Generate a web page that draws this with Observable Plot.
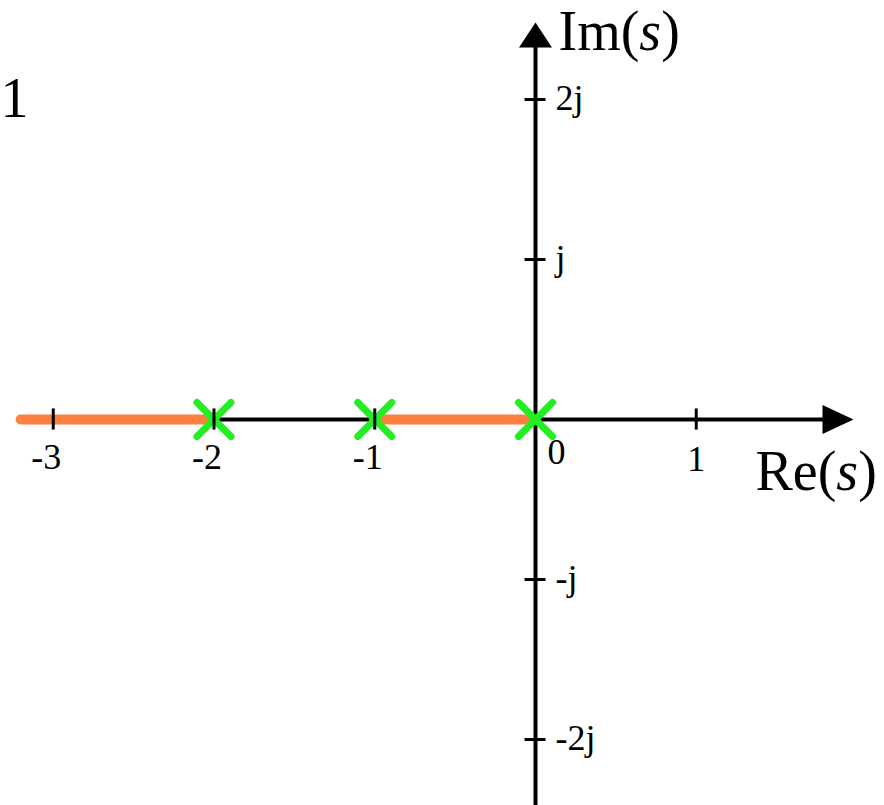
<!DOCTYPE html>
<html>
<head>
<meta charset="utf-8">
<script src="https://cdn.jsdelivr.net/npm/d3@7"></script>
<script src="https://cdn.jsdelivr.net/npm/@observablehq/plot@0.6"></script>
<style>
  html, body { margin: 0; padding: 0; background: #ffffff; }
  #chart svg { display: block; }
</style>
</head>
<body>
<div id="chart"></div>
<script>
// ---- data ----
const poles = [0, -1, -2];                       // open-loop poles (×)
const locusSegments = [[-3.2, -2], [-1, 0]];     // real-axis root-locus segments
const xTicks = [-3, -2, -1, 1];
const xTickLabels = ["-3", "-2", "-1", "1"];
const originLabel = "0";
const yTicks = [2, 1, -1, -2];
const yTickLabels = ["2j", "j", "-j", "-2j"];
const xAxisExtent = [-3.2, 1.9];
const yAxisExtent = [-2.5, 2.35];
const xAxisTitle = "Re(s)";
const yAxisTitle = "Im(s)";
const cornerText = "1";

// ---- custom symbols ----
function arrowSymbol(len, wid) {
  return {
    draw(ctx) {
      ctx.moveTo(0, -len / 2);
      ctx.lineTo(wid / 2, len / 2);
      ctx.lineTo(-wid / 2, len / 2);
      ctx.closePath();
    }
  };
}
const crossSymbol = {
  draw(ctx) {
    const h = 17;
    ctx.moveTo(-h, -h); ctx.lineTo(h, h);
    ctx.moveTo(-h, h); ctx.lineTo(h, -h);
  }
};

const serif = "'Liberation Serif', 'Times New Roman', serif";
const negIdx = xTicks.map((v, i) => i).filter(i => xTicks[i] < 0);
const posIdx = xTicks.map((v, i) => i).filter(i => xTicks[i] > 0);

const chart = Plot.plot({
  width: 884,
  height: 805,
  margin: 0,
  x: {domain: [-3.3281, 2.1711], axis: null},
  y: {domain: [-2.4125, 2.61875], axis: null},
  style: {background: "#ffffff", overflow: "visible"},
  marks: [
    // horizontal axis line
    Plot.ruleY([0], {x1: xAxisExtent[0], x2: xAxisExtent[1], stroke: "#000", strokeWidth: 4}),
    // root locus on real axis
    Plot.ruleY(locusSegments, {x1: d => d[0], x2: d => d[1], y: d => 0, stroke: "#FF7F3F", strokeWidth: 10, strokeLinecap: "round"}),
    // vertical axis line
    Plot.ruleX([0], {y1: yAxisExtent[0], y2: yAxisExtent[1], stroke: "#000", strokeWidth: 4}),
    // arrowheads
    Plot.dot([0], {x: d => 1.882, y: d => 0, symbol: arrowSymbol(31, 29), rotate: 90, fill: "#000", stroke: "none"}),
    Plot.dot([0], {x: d => 0, y: d => 2.403, symbol: arrowSymbol(25, 33), fill: "#000", stroke: "none"}),
    // poles
    Plot.dot(poles, {x: d => d, y: d => 0, symbol: crossSymbol, fill: "none", stroke: "#22EE22", strokeWidth: 7, strokeLinecap: "round"}),
    // tick marks
    Plot.ruleX(xTicks, {y1: -0.066, y2: 0.066, stroke: "#000", strokeWidth: 3}),
    Plot.ruleY(yTicks, {x1: -0.065, x2: 0.065, stroke: "#000", strokeWidth: 3}),
    // x tick labels
    Plot.text(negIdx, {x: i => xTicks[i], y: d => 0, text: i => xTickLabels[i], dy: 38, dx: -7, fontFamily: serif, fontSize: 36, fill: "#000", textAnchor: "middle", lineAnchor: "middle"}),
    Plot.text(posIdx, {x: i => xTicks[i], y: d => 0, text: i => xTickLabels[i], dy: 40, dx: 0, fontFamily: serif, fontSize: 36, fill: "#000", textAnchor: "middle", lineAnchor: "middle"}),
    Plot.text([originLabel], {x: d => 0, y: d => 0, text: d => d, dy: 33, dx: 21, fontFamily: serif, fontSize: 36, fill: "#000", textAnchor: "middle", lineAnchor: "middle"}),
    // y tick labels
    Plot.text(yTicks, {x: d => 0, y: d => d, text: (d, i) => yTickLabels[i], dx: 20, dy: -1, fontFamily: serif, fontSize: 36, fill: "#000", textAnchor: "start", lineAnchor: "middle"}),
    // axis titles
    Plot.text([xAxisTitle], {x: d => 1.3686, y: d => -0.331, text: d => d, fontFamily: serif, fontSize: 56, fill: "#000", textAnchor: "start", lineAnchor: "middle"}),
    Plot.text([yAxisTitle], {x: d => 0.143, y: d => 2.42, text: d => d, fontFamily: serif, fontSize: 56, fill: "#000", textAnchor: "start", lineAnchor: "middle"}),
    // partial text at top-left
    Plot.text([cornerText], {x: d => -3.3281, y: d => 2.0, text: d => d, fontFamily: serif, fontSize: 56, fill: "#000", textAnchor: "start", lineAnchor: "middle"})
  ]
});

// italicize the variable s in the axis titles
chart.querySelectorAll("text").forEach(t => {
  const m = /^(Im|Re)\(s\)$/.exec(t.textContent);
  if (m) {
    t.textContent = "";
    const ns = "http://www.w3.org/2000/svg";
    const a = document.createElementNS(ns, "tspan"); a.textContent = m[1] + "(";
    const b = document.createElementNS(ns, "tspan"); b.textContent = "s"; b.setAttribute("font-style", "italic");
    const c = document.createElementNS(ns, "tspan"); c.textContent = ")";
    t.append(a, b, c);
  }
});

document.getElementById("chart").append(chart);
</script>
</body>
</html>
